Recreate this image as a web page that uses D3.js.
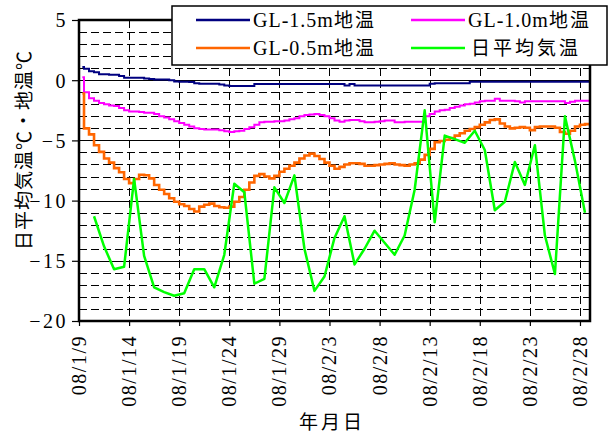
<!DOCTYPE html>
<html>
<head>
<meta charset="utf-8">
<script src="https://cdn.jsdelivr.net/npm/d3@7"></script>
<style>
  body { margin: 0; background: #fff; }
  svg { display: block; }
</style>
</head>
<body>
<svg id="chart" width="610" height="434"></svg>
<script>
// Series labels and colours
const seriesNames  = ["GL-1.5m地温", "GL-1.0m地温", "GL-0.5m地温", "日平均気温"];
const seriesColors = ["#000080", "#ff00ff", "#ff6600", "#00ff00"];

// Date tick positions (every 5 days)
const tickDates = ["2008-01-09","2008-01-14","2008-01-19","2008-01-24","2008-01-29",
                   "2008-02-03","2008-02-08","2008-02-13","2008-02-18","2008-02-23","2008-02-28"];
const yTicks = [5, 0, -5, -10, -15, -20];

// Ground temperatures (°C): first reading, then every 12 h from 01-09 12:00 to 02-29 00:00
const soil15 = [
  1.1,
  0.95, 0.75, 0.65, 0.5, 0.5, 0.45, 0.45, 0.35, 0.2, 0.2,
  0.2, 0.2, 0.15, 0.1, 0.05, 0.05, 0.05, 0.0, -0.1, -0.12,
  -0.12, -0.15, -0.25, -0.3, -0.3, -0.3, -0.3, -0.35, -0.45, -0.48,
  -0.48, -0.48, -0.48, -0.48, -0.32, -0.32, -0.32, -0.32, -0.32, -0.32,
  -0.32, -0.32, -0.32, -0.32, -0.32, -0.32, -0.32, -0.32, -0.32, -0.32,
  -0.32, -0.32, -0.45, -0.32, -0.45, -0.45, -0.45, -0.45, -0.45, -0.45,
  -0.45, -0.45, -0.45, -0.45, -0.45, -0.45, -0.45, -0.45, -0.45, -0.3,
  -0.25, -0.25, -0.25, -0.25, -0.25, -0.25, -0.25, -0.12, -0.12, -0.12,
  -0.12, -0.12, -0.12, -0.12, -0.12, -0.12, -0.12, -0.12, -0.12, -0.12,
  -0.12, -0.12, -0.12, -0.12, -0.12, -0.12, -0.12, -0.12, -0.12, -0.12,
  -0.12, -0.12
];
const soil10 = [
  0.25,
  -1.0, -1.5, -1.7, -1.9, -2.0, -2.1, -2.15, -2.3, -2.5, -2.6,
  -2.6, -2.65, -2.7, -2.7, -2.8, -3.0, -3.1, -3.25, -3.4, -3.55,
  -3.7, -3.85, -4.0, -4.05, -4.1, -4.1, -4.1, -4.15, -4.25, -4.3,
  -4.25, -4.2, -4.05, -3.9, -3.7, -3.5, -3.45, -3.45, -3.4, -3.4,
  -3.35, -3.25, -3.15, -3.0, -2.9, -2.85, -2.8, -2.9, -3.0, -3.15,
  -3.35, -3.45, -3.35, -3.3, -3.3, -3.4, -3.5, -3.5, -3.45, -3.4,
  -3.35, -3.35, -3.5, -3.5, -3.45, -3.45, -3.45, -3.45, -3.0, -2.8,
  -2.6, -2.5, -2.45, -2.3, -2.2, -2.1, -2.0, -1.95, -1.85, -1.75,
  -1.7, -1.7, -1.55, -1.7, -1.7, -1.7, -1.75, -1.85, -1.75, -1.75,
  -1.75, -1.75, -1.75, -1.75, -1.75, -1.75, -1.9, -1.8, -1.7, -1.7,
  -1.7, -1.7
];
const soil05 = [
  -1.1,
  -4.0, -4.5, -5.4, -5.95, -6.5, -6.85, -7.3, -7.65, -8.2, -8.55,
  -8.2, -7.85, -7.9, -8.15, -8.7, -9.1, -9.45, -9.8, -10.1, -10.3,
  -10.45, -10.7, -10.9, -10.5, -10.35, -10.25, -10.45, -10.55, -10.6, -10.5,
  -10.1, -9.7, -9.1, -8.5, -7.95, -7.8, -8.0, -8.15, -7.95, -7.6,
  -7.35, -7.1, -6.85, -6.5, -6.25, -6.1, -6.3, -6.55, -6.85, -7.1,
  -7.35, -7.2, -7.0, -6.9, -6.9, -6.95, -7.1, -7.1, -7.05, -7.0,
  -6.95, -6.9, -7.0, -7.05, -7.1, -7.0, -6.9, -6.6, -6.2, -5.7,
  -5.15, -5.05, -4.95, -4.8, -4.6, -4.4, -4.2, -4.05, -3.9, -3.7,
  -3.5, -3.3, -3.25, -3.6, -3.85, -4.0, -3.95, -3.9, -3.95, -4.15,
  -3.9, -3.85, -3.85, -3.85, -3.95, -4.3, -4.45, -4.2, -3.85, -3.7,
  -3.65, -3.7
];

// Daily mean air temperature (°C), 2008-01-10 .. 2008-02-28
const airMean = [
  -11.3, -13.8, -15.7, -15.5, -8.2, -14.6, -17.2, -17.6, -17.9, -17.7,
  -15.7, -15.7, -17.2, -14.5, -8.6, -9.3, -16.9, -16.5, -8.9, -10.2,
  -7.9, -14.0, -17.5, -16.3, -13.1, -11.3, -15.3, -14.0, -12.5, -13.5,
  -14.5, -12.9, -9.1, -2.5, -11.8, -4.6, -4.9, -5.2, -4.2, -5.8,
  -10.8, -10.1, -6.8, -8.7, -5.4, -12.9, -16.1, -3.0, -6.7, -11.0
];

// ---- time bases ----
const soilTimes = [new Date(2008, 0, 9, 8)]
  .concat(d3.range(soil15.length - 1).map(i => new Date(2008, 0, 9, 12 + 12 * i)));
const airTimes = airMean.map((_, i) => new Date(2008, 0, 10 + i, 12));

// ---- layout ----
const plot = { left: 79, right: 590, top: 20, bottom: 321 };
const svg = d3.select("#chart");

const x = d3.scaleTime()
  .domain([new Date(2008, 0, 9), new Date(2008, 1, 29)])
  .range([plot.left, plot.right]);
const y = d3.scaleLinear().domain([-20, 5]).range([plot.bottom, plot.top]);

const tickFont = "'Liberation Serif', 'DejaVu Serif', serif";
const cjkFont = "'Noto Sans CJK JP', sans-serif";
const parseDate = d3.timeParse("%Y-%m-%d");
const tickDateObjs = tickDates.map(parseDate);
const crisp = v => Math.round(v) + 0.5;

// ---- grid ----
const grid = svg.append("g");
d3.range(-19, 5).forEach(v => {
  const major = v % 5 === 0;
  grid.append("line")
    .attr("x1", plot.left).attr("x2", plot.right)
    .attr("y1", crisp(y(v))).attr("y2", crisp(y(v)))
    .attr("stroke", "#000").attr("stroke-width", 1)
    .attr("stroke-dasharray", major ? null : "8,4");
});
tickDateObjs.slice(1).forEach(d => {
  grid.append("line")
    .attr("x1", crisp(x(d))).attr("x2", crisp(x(d)))
    .attr("y1", plot.top).attr("y2", plot.bottom)
    .attr("stroke", "#000").attr("stroke-width", 1)
    .attr("stroke-dasharray", "8,4");
});

// ---- series ----
svg.append("clipPath").attr("id", "plotClip")
  .append("rect")
  .attr("x", plot.left).attr("y", plot.top)
  .attr("width", plot.right - plot.left).attr("height", plot.bottom - plot.top);

const series = svg.append("g").attr("clip-path", "url(#plotClip)");
const stepLine = d3.line().curve(d3.curveStepAfter)
  .x(d => x(d[0])).y(d => y(d[1]));
const plainLine = d3.line().x(d => x(d[0])).y(d => y(d[1]));

[[soil15, 2], [soil10, 2], [soil05, 2.6]].forEach(([vals, w], i) => {
  series.append("path")
    .attr("d", stepLine(vals.map((v, j) => [soilTimes[j], v])))
    .attr("fill", "none")
    .attr("stroke", seriesColors[i])
    .attr("stroke-width", w)
    .attr("stroke-linejoin", "miter");
});
series.append("path")
  .attr("d", plainLine(airMean.map((v, j) => [airTimes[j], v])))
  .attr("fill", "none")
  .attr("stroke", seriesColors[3])
  .attr("stroke-width", 2.5)
  .attr("stroke-linejoin", "round");

// ---- frame ----
svg.append("rect")
  .attr("x", plot.left).attr("y", plot.top)
  .attr("width", plot.right - plot.left).attr("height", plot.bottom - plot.top)
  .attr("fill", "none").attr("stroke", "#000").attr("stroke-width", 2.5);

// ---- axes ----
const yAxis = svg.append("g")
  .attr("transform", `translate(${plot.left},0)`)
  .call(d3.axisLeft(y).tickValues(yTicks).tickSize(7).tickPadding(4));
yAxis.select(".domain").remove();
yAxis.selectAll(".tick line").attr("stroke", "#000").attr("stroke-width", 1.2);
yAxis.selectAll(".tick text")
  .attr("font-family", tickFont).attr("font-size", 20).attr("fill", "#000")
  .attr("letter-spacing", 2.5)
  .attr("dy", "0.34em");

const xAxis = svg.append("g")
  .attr("transform", `translate(0,${plot.bottom})`)
  .call(d3.axisBottom(x).tickValues(tickDateObjs)
        .tickFormat(d3.timeFormat("%y/%-m/%-d")).tickSize(5));
xAxis.select(".domain").remove();
xAxis.selectAll(".tick line").attr("stroke", "#000").attr("stroke-width", 1.2);
xAxis.selectAll(".tick text")
  .attr("font-family", tickFont).attr("font-size", 20).attr("fill", "#000")
  .attr("letter-spacing", 1.5)
  .attr("text-anchor", "end")
  .attr("x", 0).attr("y", 0).attr("dy", null)
  .attr("transform", "translate(6.5,14) rotate(-90)");

// ---- axis titles ----
svg.append("text")
  .attr("x", 332).attr("y", 429)
  .attr("text-anchor", "middle")
  .attr("font-family", cjkFont).attr("font-size", 19)
  .attr("letter-spacing", 3)
  .text("年月日");

svg.append("text")
  .attr("transform", "translate(31,150) rotate(-90)")
  .attr("text-anchor", "middle")
  .attr("font-family", cjkFont).attr("font-size", 19)
  .attr("letter-spacing", 1)
  .text("日平均気温℃・地温℃");

// ---- legend ----
const legend = svg.append("g");
legend.append("rect")
  .attr("x", 172).attr("y", 6).attr("width", 435).attr("height", 59)
  .attr("fill", "#fff").attr("stroke", "#000").attr("stroke-width", 1.5);

const legendPos = [[196, 20], [411, 20], [196, 48], [411, 48]];
seriesNames.forEach((name, i) => {
  const [lx, ly] = legendPos[i];
  legend.append("line")
    .attr("x1", lx).attr("x2", lx + 54).attr("y1", ly).attr("y2", ly)
    .attr("stroke", seriesColors[i]).attr("stroke-width", 2.5);
  const m = name.match(/^([\x00-\x7f]*)(.*)$/);
  const t = legend.append("text")
    .attr("x", lx + 57).attr("y", ly + 7)
    .attr("fill", "#000");
  if (m[1]) {
    t.append("tspan").attr("font-family", tickFont).attr("font-size", 20)
      .attr("letter-spacing", 1).text(m[1]);
  }
  t.append("tspan")
    .attr("font-family", cjkFont).attr("font-size", 19)
    .attr("letter-spacing", m[1] ? 2 : 3)
    .attr("dx", m[1] ? 0 : 3)
    .text(m[2]);
});
</script>
</body>
</html>
